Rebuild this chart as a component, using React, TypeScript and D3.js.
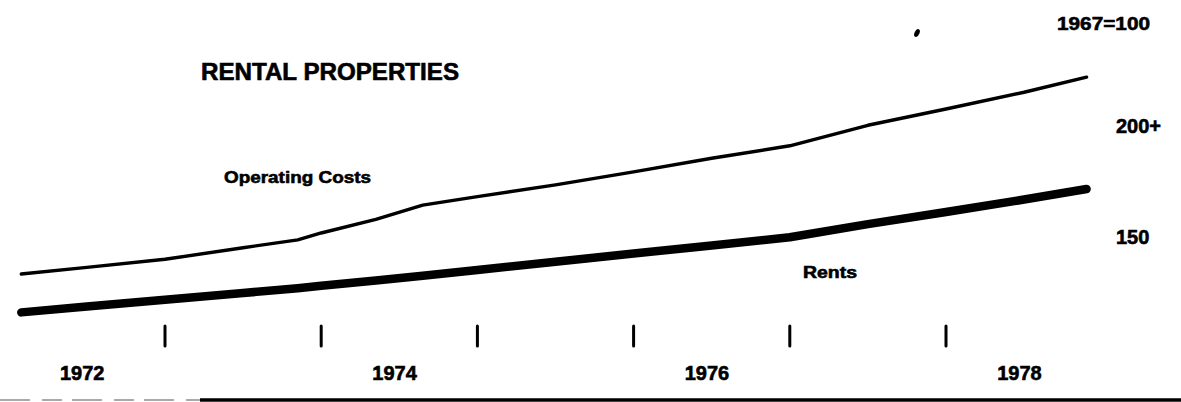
import React from 'react'
import * as d3 from 'd3'

const periods = [1972.08, 1972.5, 1973.0, 1973.5, 1973.85, 1974.0, 1974.35, 1974.65, 1975.0, 1975.5, 1976.0, 1976.5, 1977.0, 1977.5, 1978.0, 1978.5, 1978.9]
// index, 1967=100
const operatingCosts = [133.4, 136.4, 140.0, 145.2, 148.7, 151.8, 157.9, 164.3, 168.1, 173.4, 179.2, 185.3, 190.9, 200.1, 207.4, 214.9, 221.7]
const rents = [116.2, 118.8, 121.9, 124.9, 127.0, 128.1, 130.5, 132.6, 135.2, 138.9, 142.6, 146.2, 149.9, 155.8, 161.2, 166.8, 171.5]

const yearTicks = [1973, 1974, 1975, 1976, 1977, 1978]
const yearLabels = [1972, 1974, 1976, 1978]
const yTicks = [200, 150]
const yTickLabels = ['200+', '150']

const W = 1181
const H = 402
const font = "'Liberation Sans', Arial, Helvetica, sans-serif"
// scanned print looks heavier than plain bold
const ink = { fill: '#000', stroke: '#000', strokeWidth: 0.6 }

export default function App() {
  React.useEffect(() => {
    document.body.style.margin = '0'
  }, [])

  const x = d3.scaleLinear().domain([1973, 1978]).range([165, 946])
  const y = d3.scaleLinear().domain([150, 200]).range([237, 125.5])

  const line = d3
    .line<number>()
    .x((d, i) => x(periods[i]))
    .y(d => y(d))

  return (
    <svg width={W} height={H} style={{ display: 'block', background: '#fff' }}>
      <text x={201} y={80} {...ink} fontFamily={font} fontWeight={700} fontSize={23} textLength={258} lengthAdjust="spacingAndGlyphs">
        RENTAL PROPERTIES
      </text>
      <text x={1057} y={30} {...ink} fontFamily={font} fontWeight={700} fontSize={19} textLength={93} lengthAdjust="spacingAndGlyphs">
        1967=100
      </text>
      <ellipse cx={917} cy={33} rx={2.4} ry={4.2} transform="rotate(25 917 33)" fill="#000" />

      {yTicks.map((v, i) => (
        <text key={v} x={1116} y={y(v) + 7.2} {...ink} fontFamily={font} fontWeight={700} fontSize={20}>
          {yTickLabels[i]}
        </text>
      ))}

      <path d={line(operatingCosts) || ''} fill="none" stroke="#000" strokeWidth={3.4} strokeLinecap="round" strokeLinejoin="round" />
      <path d={line(rents) || ''} fill="none" stroke="#000" strokeWidth={8.5} strokeLinecap="round" strokeLinejoin="round" />

      <text x={224} y={183} {...ink} fontFamily={font} fontWeight={700} fontSize={17} textLength={147} lengthAdjust="spacingAndGlyphs">
        Operating Costs
      </text>
      <text x={803} y={278} {...ink} fontFamily={font} fontWeight={700} fontSize={16} textLength={54} lengthAdjust="spacingAndGlyphs">
        Rents
      </text>

      {yearTicks.map(t => (
        <line key={t} x1={x(t)} x2={x(t)} y1={326} y2={346} stroke="#000" strokeWidth={3} strokeLinecap="round" />
      ))}
      {yearLabels.map(t => (
        <text key={t} x={x(t + 0.47)} y={380} textAnchor="middle" {...ink} fontFamily={font} fontWeight={700} fontSize={20}>
          {t}
        </text>
      ))}

      <line x1={0} x2={200} y1={400} y2={400} stroke="#aaa" strokeWidth={2} strokeDasharray="30 12 20 10" />
      <line x1={200} x2={W} y1={400} y2={400} stroke="#000" strokeWidth={3.5} />
    </svg>
  )
}
